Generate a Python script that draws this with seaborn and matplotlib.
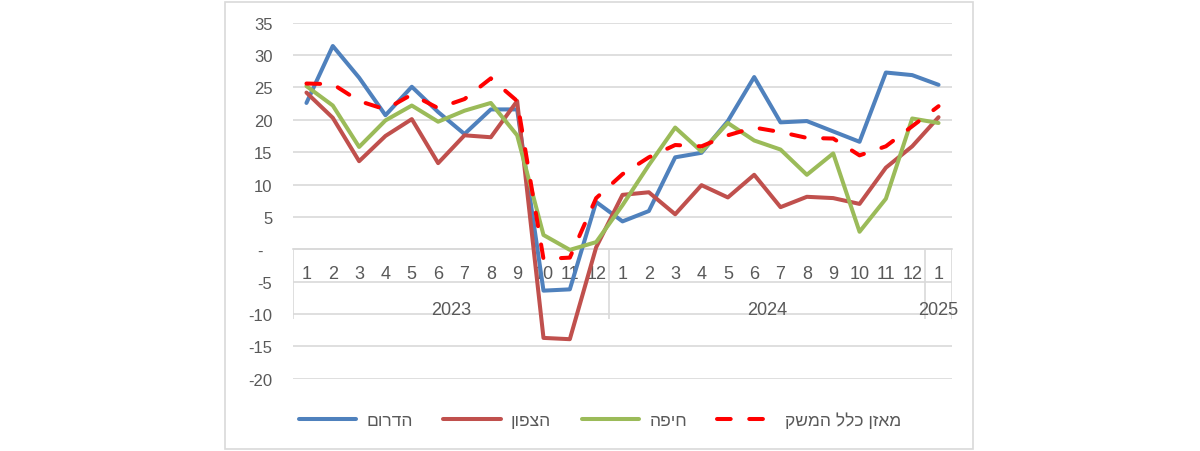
import matplotlib
matplotlib.use("Agg")
import matplotlib.pyplot as plt
import seaborn as sns
import numpy as np
import pandas as pd
from matplotlib.patches import Rectangle

# months along the axis, grouped by year
months = [1, 2, 3, 4, 5, 6, 7, 8, 9, 10, 11, 12,
          1, 2, 3, 4, 5, 6, 7, 8, 9, 10, 11, 12, 1]
years = [2023] * 12 + [2024] * 12 + [2025]

# series
south = [22.6, 31.4, 26.5, 20.7, 25.1, 21.2, 17.8, 21.6, 21.6, -6.4, -6.2, 7.3,
         4.3, 5.9, 14.2, 14.9, 19.8, 26.6, 19.6, 19.8, 18.2, 16.6, 27.3, 26.9, 25.4]
north = [24.2, 20.3, 13.6, 17.5, 20.1, 13.3, 17.6, 17.3, 22.9, -13.7, -13.9, 0.3,
         8.4, 8.8, 5.4, 9.9, 8.0, 11.5, 6.5, 8.1, 7.9, 7.0, 12.6, 15.9, 20.4]
haifa = [25.2, 22.2, 15.8, 19.9, 22.2, 19.7, 21.4, 22.6, 17.6, 2.2, -0.1, 1.1,
         6.8, 13.0, 18.8, 15.1, 19.5, 16.8, 15.4, 11.5, 14.8, 2.7, 7.8, 20.2, 19.5]
economy = [25.6, 25.5, 22.9, 21.6, 23.9, 21.8, 23.2, 26.4, 22.9, -1.5, -1.3, 7.9,
           11.6, 14.2, 16.1, 15.9, 17.6, 18.8, 18.1, 17.2, 17.1, 14.5, 15.9, 19.0, 22.1]

series_names = ["הדרום", "הצפון", "חיפה", "מאזן כלל המשק"]
series_values = [south, north, haifa, economy]
series_colors = ["#4F81BD", "#C0504D", "#9BBB59", "#FF0000"]

y_ticks = [-20, -15, -10, -5, 0, 5, 10, 15, 20, 25, 30, 35]

sns.set_style("white")
plt.rcParams['font.family'] = ['Liberation Sans', 'DejaVu Sans']

TEXT = "#595959"
GRID = "#d9d9d9"

fig = plt.figure(figsize=(12, 4.52), dpi=100)
ax = fig.add_axes([0.2444, 0.16, 0.5487, 0.7876])

idx = np.arange(len(months))
for name, vals, color in zip(series_names, series_values, series_colors):
    df = pd.DataFrame({"idx": idx, "value": vals})
    dashed = name == series_names[-1]
    sns.lineplot(data=df, x="idx", y="value", ax=ax, color=color, lw=2.9,
                 label=name[::-1], zorder=3,
                 linestyle=(0, (3.4, 4.6)) if dashed else "-",
                 dash_capstyle="round", solid_capstyle="round",
                 solid_joinstyle="round")

ax.set_ylim(-20, 35)
ax.set_xlim(-0.5, len(months) - 0.5)
ax.set_yticks(y_ticks)
ax.set_yticklabels([str(v) if v != 0 else "-  " for v in y_ticks],
                   color=TEXT, fontsize=12)
ax.grid(axis="y", color=GRID, lw=1.2)
ax.set_axisbelow(True)
ax.tick_params(axis="y", length=0, pad=15)

for s in ["top", "right", "left"]:
    ax.spines[s].set_visible(False)
ax.spines["bottom"].set_position(("data", 0))
ax.spines["bottom"].set_color(GRID)
ax.spines["bottom"].set_linewidth(1.2)

ax.set_xticks(idx)
ax.set_xticklabels([str(m) for m in months], color=TEXT, fontsize=13)
ax.tick_params(axis="x", length=0, pad=11.5)
ax.set_xlabel("")
ax.set_ylabel("")

# year groups: separators and centered labels
yrs = np.array(years)
bounds = [-0.5]
for y in sorted(set(years)):
    pos = idx[yrs == y]
    bounds.append(pos.max() + 0.5)
    ax.text(pos.mean(), -9.35, str(y), ha="center", va="center",
            color=TEXT, fontsize=13)
ax.vlines(bounds, -10.8, 0, color=GRID, lw=1.2)

leg = ax.legend(loc="center", bbox_to_anchor=(0.5, 0.069),
                bbox_transform=fig.transFigure, ncol=4, frameon=False,
                fontsize=12.5, handlelength=3.3, handletextpad=0.6,
                columnspacing=1.75)
for t in leg.get_texts():
    t.set_color(TEXT)

fig.patches.append(Rectangle((225 / 1200, 2 / 452), 748 / 1200, 447 / 452,
                             transform=fig.transFigure, fill=False,
                             ec=GRID, lw=1.2))

fig.savefig("out.png", dpi=100)
